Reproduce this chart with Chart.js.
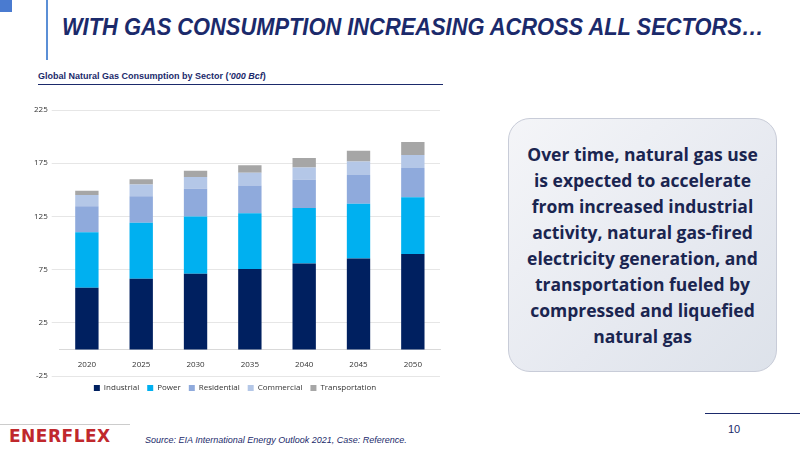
<!DOCTYPE html>
<html><head><meta charset="utf-8">
<script src="https://cdn.jsdelivr.net/npm/chart.js@4"></script>
<style>
body{margin:0;width:800px;height:450px;background:#fff;position:relative;overflow:hidden;font-family:'Liberation Sans',Arial,sans-serif}
.abs{position:absolute}
</style></head><body>
<div class="abs" style="left:0;top:0;width:12px;height:12px;background:#4a7bd0"></div>
<div class="abs" style="left:46px;top:0;width:2px;height:60px;background:#5b8fd6"></div>
<div class="abs" style="left:62px;top:14px;white-space:nowrap;font-size:23px;font-weight:bold;font-style:italic;color:#1b2a6b;transform:scaleX(0.95);transform-origin:left top">WITH GAS CONSUMPTION INCREASING ACROSS ALL SECTORS…</div>
<div class="abs" style="left:38px;top:71px;font-size:9px;font-weight:bold;color:#1b2a6b">Global Natural Gas Consumption by Sector (<i>'000 Bcf</i>)</div>
<div class="abs" style="left:38px;top:84px;width:405px;height:1px;background:#1b2a6b"></div>
<div class="abs" style="left:30px;top:92px;width:420px;height:310px"><canvas id="c"></canvas></div>
<div class="abs" style="left:508px;top:118px;width:267px;height:252px;border-radius:22px;border:1px solid #c8ccd8;background:linear-gradient(135deg,#f4f5f8,#e6e9f0 60%,#dde2ea);display:flex;align-items:center;justify-content:center;text-align:center;font-family:'Open Sans',sans-serif;font-weight:bold;font-size:17.5px;line-height:26px;color:#1a2550">Over time, natural gas use<br>is expected to accelerate<br>from increased industrial<br>activity, natural gas-fired<br>electricity generation, and<br>transportation fueled by<br>compressed and liquefied<br>natural gas</div>
<div class="abs" style="left:0;top:424px;width:130px;height:1px;background:#ccc"></div>
<div class="abs" style="left:9px;top:426px;font-size:17px;font-weight:900;color:#c0282d;letter-spacing:0.5px;font-family:'DejaVu Sans',sans-serif">ENERFLEX</div>
<div class="abs" style="left:145px;top:435px;font-size:9px;font-style:italic;color:#1b2a6b">Source: EIA International Energy Outlook 2021, Case: Reference.</div>
<div class="abs" style="left:705px;top:413px;width:95px;height:1px;background:#1b2a6b"></div>
<div class="abs" style="left:728px;top:423px;font-size:11px;color:#1b2a6b">10</div>
<script>
const categories=['2020','2025','2030','2035','2040','2045','2050'];
const industrial=[58,66.5,71,75.6,80.7,85.4,89.6];
const power=[52,52.5,54,52.4,52.3,51.6,53.4];
const residential=[24.5,25,26,26,26.5,27,27.6];
const commercial=[10.5,11,11,12,11.5,12.6,12];
const transportation=[4,5,6,7,9,10,12.4];
const yTicks=[-25,25,75,125,175,225];
const mk=(l,d,c)=>({label:l,data:d,backgroundColor:c,barPercentage:0.43,categoryPercentage:1});
new Chart(document.getElementById('c'),{type:'bar',
data:{labels:categories,datasets:[mk('Industrial',industrial,'#002060'),mk('Power',power,'#00b0f0'),mk('Residential',residential,'#8faadc'),mk('Commercial',commercial,'#b4c7e7'),mk('Transportation',transportation,'#a6a6a6')]},
options:{responsive:true,maintainAspectRatio:false,animation:false,
layout:{padding:{right:10,top:18}},
plugins:{legend:{position:'bottom',labels:{boxWidth:6,boxHeight:6,font:{size:8,family:'Open Sans'},color:'#333',padding:8}},tooltip:{enabled:false}},
scales:{x:{stacked:true,position:{y:0},grid:{display:false},border:{color:'#d9d9d9'},ticks:{font:{size:8,family:'Open Sans'},color:'#333'}},
y:{stacked:true,min:-25,max:225,afterBuildTicks:a=>{a.ticks=yTicks.map(v=>({value:v}))},grid:{color:'#e6e6e6'},border:{display:false},ticks:{font:{size:8,family:'Open Sans'},color:'#333',padding:4}}}}});
</script>
</body></html>
